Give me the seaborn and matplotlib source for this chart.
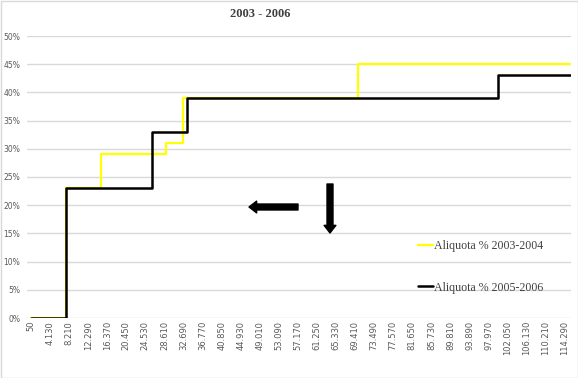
import matplotlib
matplotlib.use('Agg')
import matplotlib.pyplot as plt
import seaborn as sns
import pandas as pd
from matplotlib.patches import Rectangle

# scaglioni aliquote (reddito, aliquota %)
redditi_0304 = [50, 7500, 15000, 29000, 32600, 70000, 115600]
aliquote_0304 = [0, 23, 29, 31, 39, 45, 45]
redditi_0506 = [50, 7500, 26000, 33500, 100000, 115600]
aliquote_0506 = [0, 23, 33, 39, 43, 43]

x_ticks = [50, 4130, 8210, 12290, 16370, 20450, 24530, 28610, 32690, 36770,
           40850, 44930, 49010, 53090, 57170, 61250, 65330, 69410, 73490,
           77570, 81650, 85730, 89810, 93890, 97970, 102050, 106130, 110210,
           114290]
y_ticks = [0, 5, 10, 15, 20, 25, 30, 35, 40, 45, 50]

df_a = pd.DataFrame({'reddito': redditi_0304, 'aliquota': aliquote_0304})
df_b = pd.DataFrame({'reddito': redditi_0506, 'aliquota': aliquote_0506})

sns.set_style('white')
fig = plt.figure(figsize=(5.78, 3.78), dpi=100)
ax = fig.add_axes([27/578, 1-318/378, (571-27)/578, (318-36)/378])

sns.lineplot(data=df_a, x='reddito', y='aliquota', drawstyle='steps-post',
             color='#FFFF00', linewidth=1.6, label='Aliquota % 2003-2004', ax=ax)
sns.lineplot(data=df_b, x='reddito', y='aliquota', drawstyle='steps-post',
             color='black', linewidth=1.8, label='Aliquota % 2005-2006', ax=ax)

ax.set_xlim(-800, 115600)
ax.set_ylim(0, 50)
ax.set_xticks(x_ticks)
ax.set_xticklabels([f'{v:,}'.replace(',', '.') for v in x_ticks],
                   rotation=90, fontsize=6, color='#595959')
ax.set_yticks(y_ticks)
ax.set_yticklabels([f'{v}%' for v in y_ticks], fontsize=5.5, color='#595959')
ax.tick_params(length=0, pad=2)
ax.tick_params(axis='y', pad=5)
ax.grid(axis='y', color='#d9d9d9', linewidth=1)
ax.grid(axis='x', visible=False)
for s in ax.spines.values():
    s.set_visible(False)
ax.set_xlabel('')
ax.set_ylabel('')

leg = ax.legend(loc='upper left', bbox_to_anchor=(407/578, 1-229/378),
                bbox_transform=fig.transFigure, frameon=False,
                prop={'family': 'Liberation Serif', 'size': 8.6},
                handlelength=1.3, handletextpad=0.1, labelspacing=2.5)
for t in leg.get_texts():
    t.set_color('#404040')

fig.text(260/578, 1-14/378, '2003 - 2006', ha='center', va='center',
         family='Liberation Serif', fontsize=9, weight='bold', color='#404040')

# frecce
ax.annotate('', xy=(249, 378-207), xytext=(298, 378-207), xycoords='figure pixels',
            arrowprops=dict(width=4.3, headwidth=8.5, headlength=5.5, color='black', shrink=0))
ax.annotate('', xy=(330, 378-233), xytext=(330, 378-184), xycoords='figure pixels',
            arrowprops=dict(width=4.3, headwidth=8.5, headlength=5.5, color='black', shrink=0))

fig.patches.append(Rectangle((0.5/578, 0.5/378), 1-1/578, 1-1/378, transform=fig.transFigure,
                             fill=False, edgecolor='#d9d9d9', linewidth=1))

fig.savefig('out.png', dpi=100)
